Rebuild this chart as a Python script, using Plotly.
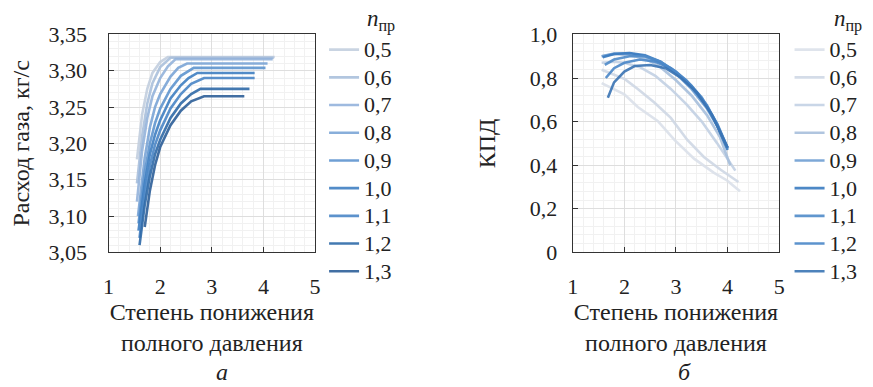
import plotly.graph_objects as go

n_labels = ["0,5", "0,6", "0,7", "0,8", "0,9", "1,0", "1,1", "1,2", "1,3"]

# Left chart: gas flow rate (kg/s) vs total pressure ratio
flow_x = [
    [1.55, 1.65, 1.75, 1.85, 2.00, 2.15, 4.22],
    [1.55, 1.65, 1.75, 1.85, 2.00, 2.20, 4.20],
    [1.55, 1.65, 1.75, 1.85, 2.00, 2.15, 2.30, 4.18],
    [1.57, 1.70, 1.80, 1.90, 2.00, 2.20, 2.35, 2.52, 4.08],
    [1.58, 1.70, 1.80, 1.90, 2.00, 2.20, 2.40, 2.65, 4.04],
    [1.58, 1.70, 1.80, 1.90, 2.00, 2.20, 2.40, 2.55, 2.72, 3.83],
    [1.60, 1.70, 1.80, 1.90, 2.00, 2.20, 2.40, 2.60, 2.85, 3.83],
    [1.60, 1.70, 1.80, 1.90, 2.00, 2.20, 2.40, 2.60, 2.78, 3.73],
    [1.70, 1.80, 1.90, 2.00, 2.20, 2.40, 2.60, 2.85, 3.63],
]
flow_y = [
    [3.178, 3.240, 3.275, 3.297, 3.312, 3.319, 3.319],
    [3.145, 3.210, 3.255, 3.283, 3.305, 3.318, 3.318],
    [3.120, 3.190, 3.235, 3.265, 3.290, 3.306, 3.316, 3.316],
    [3.100, 3.180, 3.222, 3.250, 3.268, 3.292, 3.304, 3.310, 3.310],
    [3.090, 3.160, 3.200, 3.228, 3.248, 3.275, 3.293, 3.304, 3.304],
    [3.080, 3.145, 3.185, 3.212, 3.232, 3.262, 3.280, 3.290, 3.297, 3.297],
    [3.070, 3.130, 3.170, 3.198, 3.218, 3.248, 3.268, 3.282, 3.290, 3.290],
    [3.060, 3.115, 3.155, 3.185, 3.205, 3.235, 3.255, 3.268, 3.275, 3.275],
    [3.085, 3.135, 3.170, 3.195, 3.225, 3.245, 3.258, 3.265, 3.265],
]

# Right chart: efficiency (КПД) vs total pressure ratio
eff_x = [
    [1.56, 2.00, 2.26, 2.65, 2.97, 3.35, 3.73, 3.99, 4.24],
    [1.56, 2.01, 2.26, 2.58, 2.90, 3.22, 3.54, 3.86, 4.21],
    [1.56, 1.80, 2.00, 2.30, 2.60, 2.90, 3.20, 3.50, 3.80, 4.15],
    [1.56, 1.80, 2.10, 2.40, 2.70, 3.00, 3.30, 3.60, 3.85, 4.05],
    [1.56, 1.80, 2.10, 2.40, 2.70, 3.00, 3.30, 3.60, 3.80, 4.00],
    [1.58, 1.80, 2.10, 2.40, 2.70, 3.00, 3.30, 3.60, 3.80, 4.00],
    [1.62, 1.80, 2.10, 2.40, 2.70, 3.00, 3.30, 3.60, 3.80, 4.00],
    [1.64, 1.80, 2.00, 2.30, 2.60, 2.90, 3.20, 3.50, 3.80, 4.00],
    [1.68, 1.80, 2.00, 2.20, 2.50, 2.80, 3.10, 3.40, 3.70, 4.00],
]
eff_y = [
    [0.777, 0.725, 0.667, 0.602, 0.516, 0.430, 0.366, 0.330, 0.280],
    [0.838, 0.795, 0.750, 0.688, 0.617, 0.516, 0.438, 0.380, 0.323],
    [0.870, 0.875, 0.870, 0.850, 0.810, 0.750, 0.680, 0.600, 0.500, 0.375],
    [0.900, 0.910, 0.905, 0.890, 0.850, 0.790, 0.720, 0.630, 0.530, 0.400],
    [0.900, 0.912, 0.912, 0.900, 0.870, 0.820, 0.750, 0.660, 0.580, 0.480],
    [0.895, 0.910, 0.915, 0.905, 0.875, 0.825, 0.760, 0.670, 0.580, 0.470],
    [0.860, 0.885, 0.900, 0.900, 0.875, 0.830, 0.765, 0.675, 0.585, 0.475],
    [0.800, 0.845, 0.870, 0.885, 0.875, 0.845, 0.790, 0.710, 0.590, 0.480],
    [0.710, 0.780, 0.830, 0.855, 0.860, 0.845, 0.800, 0.735, 0.630, 0.480],
]

flow_colors = ["#c3cfdf", "#aac0dc", "#94b3db", "#7ba5d6", "#5f95cf",
               "#3f7fc2", "#4a86c6", "#2f6aa8", "#2d5f99"]
eff_colors = ["#dbe1ea", "#cfd8e5", "#c3d1e4", "#a7bfdc", "#6f9fd3",
              "#3a7bc0", "#4f8bc9", "#4a87c8", "#3a74b4"]

FONT = "Liberation Serif, Times New Roman, serif"
TXT = "#222222"
fig = go.Figure()


def leg_name(s):
    return "<span style='font-size:22px'>" + s + "</span>"


for i, lab in enumerate(n_labels):
    fig.add_trace(go.Scatter(
        x=flow_x[i], y=flow_y[i], mode="lines", name=leg_name(lab),
        line=dict(color=flow_colors[i], width=2.6), opacity=0.9,
        xaxis="x", yaxis="y", legend="legend"))
for i, lab in enumerate(n_labels):
    fig.add_trace(go.Scatter(
        x=eff_x[i], y=eff_y[i], mode="lines", name=leg_name(lab),
        line=dict(color=eff_colors[i], width=2.6), opacity=0.9,
        xaxis="x2", yaxis="y2", legend="legend2"))

axis_common = dict(
    showline=True, mirror=True, linecolor="#333333", linewidth=1.2,
    ticks="inside", ticklen=5, tickcolor="#333333",
    showgrid=True, gridcolor="#dedede", gridwidth=1,
    zeroline=False,
    tickfont=dict(family=FONT, size=22, color=TXT),
)
xtitle = "Степень понижения<br>полного давления"
title_font = dict(family=FONT, size=24, color=TXT)

fig.update_layout(
    width=873, height=387,
    margin=dict(l=0, r=0, t=0, b=0),
    paper_bgcolor="white", plot_bgcolor="white",
    font=dict(family=FONT, size=20, color=TXT),
    separators=", ",
    xaxis=dict(domain=[0.119, 0.3585], range=[1, 5], dtick=1,
               minor=dict(dtick=0.2, showgrid=True, gridcolor="#f1f1f1"),
               ticklabelstandoff=14,
               title=dict(text=xtitle, font=title_font, standoff=0),
               anchor="y", **axis_common),
    yaxis=dict(domain=[0.336, 0.938], range=[3.05, 3.35], dtick=0.05,
               tickformat=".2f",
               minor=dict(dtick=0.01, showgrid=True, gridcolor="#f1f1f1"),
               ticklabelstandoff=16,
               title=dict(text="Расход газа, кг/с", font=dict(family=FONT, size=24, color=TXT),
                          standoff=12),
               anchor="x", **axis_common),
    xaxis2=dict(domain=[0.6575, 0.897], range=[1, 5], dtick=1,
                minor=dict(dtick=0.2, showgrid=True, gridcolor="#f1f1f1"),
                ticklabelstandoff=14,
                title=dict(text=xtitle, font=title_font, standoff=0),
                anchor="y2", **axis_common),
    yaxis2=dict(domain=[0.336, 0.938], range=[0, 1.0],
                tickvals=[0, 0.2, 0.4, 0.6, 0.8, 1.0],
                ticktext=["0", "0,2", "0,4", "0,6", "0,8", "1,0"],
                minor=dict(dtick=0.04, showgrid=True, gridcolor="#f1f1f1"),
                ticklabelstandoff=10,
                title=dict(text="КПД", font=dict(family=FONT, size=24, color=TXT), standoff=27),
                anchor="x2", **axis_common),
    legend=dict(x=0.369, y=0.948, xanchor="left", yanchor="top",
                font=dict(family=FONT, size=19, color=TXT),
                bgcolor="rgba(0,0,0,0)", tracegroupgap=0),
    legend2=dict(x=0.909, y=0.948, xanchor="left", yanchor="top",
                 font=dict(family=FONT, size=19, color=TXT),
                 bgcolor="rgba(0,0,0,0)", tracegroupgap=0),
    showlegend=True,
)

fig.add_annotation(text="<i>n</i><sub>пр</sub>", x=0.4347, y=1.02, xref="paper", yref="paper",
                   xanchor="center", yanchor="top", borderpad=0,
                   showarrow=False, font=dict(family=FONT, size=23, color=TXT))
fig.add_annotation(text="<i>n</i><sub>пр</sub>", x=0.977, y=1.02, xref="paper", yref="paper",
                   xanchor="center", yanchor="top", borderpad=0,
                   showarrow=False, font=dict(family=FONT, size=23, color=TXT))
fig.add_annotation(text="<i>а</i>", x=0.251, y=-0.034, xref="paper", yref="paper",
                   xanchor="center", yanchor="bottom", borderpad=0,
                   showarrow=False, font=dict(family=FONT, size=24, color=TXT))
fig.add_annotation(text="<i>б</i>", x=0.787, y=-0.034, xref="paper", yref="paper",
                   xanchor="center", yanchor="bottom", borderpad=0,
                   showarrow=False, font=dict(family=FONT, size=24, color=TXT))

fig.write_html("out.html")
